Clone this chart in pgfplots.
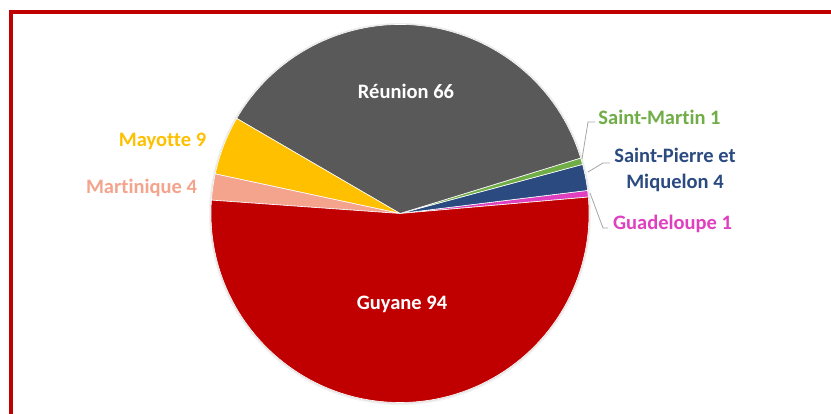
\documentclass[border=0pt]{standalone}
\usepackage{pgfplots}
\pgfplotsset{compat=1.18}
\usepackage{pgfplotstable}
\usepackage{fontspec}
\setmainfont{Carlito}[Ligatures=NoCommon]

% slice colours (same order as the table)
\definecolor{slice0}{HTML}{E040C0}
\definecolor{slice1}{HTML}{2A4A80}
\definecolor{slice2}{HTML}{70AD47}
\definecolor{slice3}{HTML}{595959}
\definecolor{slice4}{HTML}{FFC000}
\definecolor{slice5}{HTML}{F4A38C}
\definecolor{slice6}{HTML}{C00000}
\definecolor{frame}{HTML}{C00000}
\definecolor{leader}{HTML}{A6A6A6}

% counter-clockwise from the first slice
\pgfplotstableread{
label        value
Guadeloupe   1
SPM          4
SaintMartin  1
Reunion      66
Mayotte      9
Martinique   4
Guyane       94
}\piedata

\def\piestart{5}
\def\pietotal{0}
\pgfplotsforeachungrouped \i in {0,...,6}{%
  \pgfplotstablegetelem{\i}{value}\of\piedata
  \pgfmathsetmacro\pietotal{\pietotal+\pgfplotsretval}%
}
\def\cur{\piestart}
\pgfplotsforeachungrouped \i in {0,...,6}{%
  \pgfplotstablegetelem{\i}{value}\of\piedata
  \pgfmathsetmacro\nxt{\cur+(\pgfplotsretval/\pietotal)*360}%
  \expandafter\xdef\csname pieA\i\endcsname{\cur}%
  \expandafter\xdef\csname pieB\i\endcsname{\nxt}%
  \global\let\cur\nxt
}

\begin{document}
\begin{tikzpicture}
\begin{axis}[
    scale only axis,
    width=831bp, height=414bp,
    xmin=0, xmax=831, ymin=0, ymax=414,
    hide axis,
    clip=false,
  ]
  \path (axis cs:0,0) rectangle (axis cs:831,414);
  % frame (only top and left edges are visible)
  \fill[frame] (axis cs:9,400) rectangle (axis cs:831,404);
  \fill[frame] (axis cs:9,0) rectangle (axis cs:13,404);

  % faint shadow
  \fill[black, opacity=0.05] (axis cs:400,200) circle[radius=191bp];
  \fill[black, opacity=0.06] (axis cs:400,200.3) circle[radius=190bp];

  \pgfplotsinvokeforeach{0,...,6}{%
    \fill[slice#1, draw=white, line width=0.6bp, line join=round]
      (axis cs:400,200.5) -- ++(\csname pieA#1\endcsname:189bp)
      arc[start angle=\csname pieA#1\endcsname, end angle=\csname pieB#1\endcsname, radius=189bp] -- cycle;
  }

  % leader lines
  \draw[leader, line width=0.8bp] (axis cs:595,292) -- (axis cs:588,292) -- (axis cs:582,255);
  \draw[leader, line width=0.8bp] (axis cs:610,251) -- (axis cs:603,251) -- (axis cs:588,242);
  \draw[leader, line width=0.8bp] (axis cs:608,186) -- (axis cs:603,186) -- (axis cs:590,221);

  \begin{scope}[every node/.style={inner sep=0pt, font=\fontsize{20.5bp}{26bp}\selectfont\bfseries}]
    \node[white] at (axis cs:406,323) {Réunion 66};
    \node[white] at (axis cs:402,110) {Guyane 94};
    \node[slice4] at (axis cs:162.5,273) {Mayotte 9};
    \node[slice5] at (axis cs:141.5,226) {Martinique 4};
    \node[slice2] at (axis cs:659.5,297) {Saint-Martin 1};
    \node[slice1, align=center] at (axis cs:675,244) {Saint-Pierre et\\Miquelon 4};
    \node[slice0] at (axis cs:672.5,190) {Guadeloupe 1};
  \end{scope}
\end{axis}
\end{tikzpicture}
\end{document}
